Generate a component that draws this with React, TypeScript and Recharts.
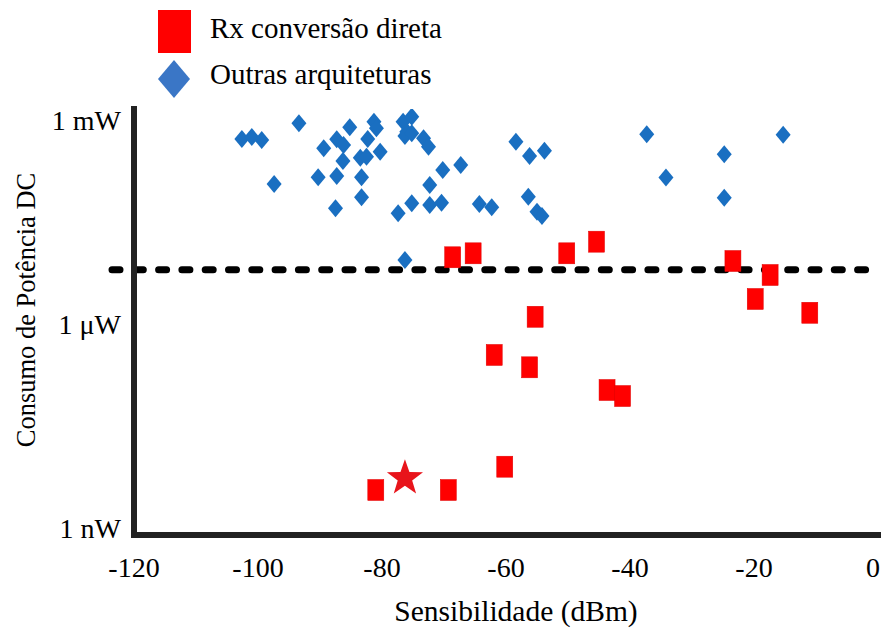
import React from 'react';
import { ScatterChart, Scatter, XAxis, YAxis, ReferenceLine, Legend, Label } from 'recharts';

// Sensitivity (dBm) vs DC power consumption (W)
const otherArchitectures = [
  { x: -102.6, y: 5.35e-4 }, { x: -101.0, y: 5.72e-4 }, { x: -99.4, y: 5.18e-4 },
  { x: -93.4, y: 9.1e-4 }, { x: -97.4, y: 1.17e-4 }, { x: -85.2, y: 7.94e-4 },
  { x: -89.4, y: 3.91e-4 }, { x: -87.3, y: 5.3e-4 }, { x: -86.2, y: 4.37e-4 },
  { x: -86.3, y: 2.54e-4 }, { x: -90.3, y: 1.47e-4 }, { x: -87.3, y: 1.53e-4 },
  { x: -87.5, y: 5.13e-5 }, { x: -83.3, y: 1.47e-4 }, { x: -83.3, y: 7.45e-5 },
  { x: -83.5, y: 2.84e-4 }, { x: -82.5, y: 2.94e-4 }, { x: -82.3, y: 5.35e-4 },
  { x: -81.3, y: 9.6e-4 }, { x: -80.9, y: 7.68e-4 }, { x: -80.3, y: 3.48e-4 },
  { x: -76.6, y: 9.6e-4 }, { x: -75.2, y: 1.14e-3 }, { x: -76.0, y: 6.84e-4 },
  { x: -76.3, y: 5.92e-4 }, { x: -75.2, y: 6.49e-4 }, { x: -73.3, y: 5.48e-4 },
  { x: -72.5, y: 4.12e-4 }, { x: -70.2, y: 1.87e-4 }, { x: -72.3, y: 1.13e-4 },
  { x: -75.2, y: 6.08e-5 }, { x: -77.4, y: 4.34e-5 }, { x: -72.3, y: 5.74e-5 },
  { x: -70.4, y: 6.21e-5 }, { x: -67.3, y: 2.22e-4 }, { x: -64.3, y: 5.94e-5 },
  { x: -62.3, y: 5.31e-5 }, { x: -76.3, y: 8.93e-6 }, { x: -58.4, y: 4.89e-4 },
  { x: -56.2, y: 3.01e-4 }, { x: -53.8, y: 3.6e-4 }, { x: -56.4, y: 7.6e-5 },
  { x: -55.0, y: 4.57e-5 }, { x: -54.2, y: 3.96e-5 }, { x: -37.3, y: 6.27e-4 },
  { x: -34.2, y: 1.45e-4 }, { x: -24.8, y: 3.19e-4 }, { x: -24.8, y: 7.35e-5 },
  { x: -15.3, y: 6.18e-4 },
];

const directConversion = [
  { x: -68.6, y: 9.79e-6 }, { x: -65.3, y: 1.12e-5 }, { x: -50.2, y: 1.12e-5 },
  { x: -45.4, y: 1.66e-5 }, { x: -23.4, y: 8.63e-6 }, { x: -17.4, y: 5.38e-6 },
  { x: -19.8, y: 2.39e-6 }, { x: -11.0, y: 1.5e-6 }, { x: -55.3, y: 1.31e-6 },
  { x: -61.9, y: 3.6e-7 }, { x: -56.2, y: 2.37e-7 }, { x: -43.7, y: 1.1e-7 },
  { x: -41.2, y: 8.97e-8 }, { x: -60.2, y: 8.22e-9 }, { x: -81.0, y: 3.74e-9 },
  { x: -69.3, y: 3.74e-9 },
];

const thisWork = [{ x: -76.3, y: 5.86e-9 }];

const thresholdPower = 6.4e-6;

const xTicks = [-120, -100, -80, -60, -40, -20, 0];
const yTicks = [1e-9, 1e-6, 1e-3];
const yTickLabels = ['1 nW', '1 \u03bcW', '1 mW'];

const legendLabels = ['Rx conversão direta', 'Outras arquiteturas'];
const xTitle = 'Sensibilidade (dBm)';
const yTitle = 'Consumo de Potência DC';

const FONT = "'Liberation Serif', 'Times New Roman', serif";
const RED = '#ff0000';
const BLUE = '#1a6fc1';
const AXIS = '#222222';

const SquareShape = (p: any) => {
  if (p.cx == null || p.cy == null) return null;
  return <rect x={p.cx - 8} y={p.cy - 10.5} width={16} height={21} fill={RED} stroke="#e00000" strokeWidth={0.5} />;
};

const DiamondShape = (p: any) => {
  if (p.cx == null || p.cy == null) return null;
  const { cx, cy } = p;
  return (
    <polygon
      points={`${cx},${cy - 9} ${cx + 7.5},${cy} ${cx},${cy + 9} ${cx - 7.5},${cy}`}
      fill={BLUE}
    />
  );
};

const StarShape = (p: any) => {
  if (p.cx == null || p.cy == null) return null;
  const pts: string[] = [];
  for (let i = 0; i < 10; i++) {
    const r = i % 2 === 0 ? 19 : 7.6;
    const a = -Math.PI / 2 + (i * Math.PI) / 5;
    pts.push(`${p.cx + r * Math.cos(a)},${p.cy + 1.5 + r * Math.sin(a)}`);
  }
  return <polygon points={pts.join(' ')} fill="#e8141b" />;
};

const DashedShape = (p: any) => (
  <line
    x1={p.x1 - 22}
    y1={p.y1}
    x2={p.x2 - 11}
    y2={p.y2}
    stroke="#000"
    strokeWidth={7}
    strokeDasharray="8 15.3"
    strokeLinecap="round"
  />
);

const XTick = (p: any) => {
  const v = p.payload.value;
  const dx = v === 0 ? -5 : 0;
  return (
    <text x={p.x + dx} y={p.y + 42} textAnchor="middle" fontFamily={FONT} fontSize={28} fill="#000">
      {v}
    </text>
  );
};

const YTick = (p: any) => {
  const idx = yTicks.findIndex((t) => Math.abs(Math.log10(t) - Math.log10(p.payload.value)) < 0.01);
  return (
    <text x={p.x - 13} y={p.y + 9.5} textAnchor="end" fontFamily={FONT} fontSize={28} fill="#000">
      {idx >= 0 ? yTickLabels[idx] : ''}
    </text>
  );
};

const LegendContent = () => (
  <svg width={470} height={100} style={{ display: 'block' }}>
    <rect x={158} y={10} width={33} height={43} fill={RED} />
    <polygon points="174,60 190,79 174,98 158,79" fill="#3a76c6" />
    <text x={210} y={38} fontFamily={FONT} fontSize={29} fill="#000">{legendLabels[0]}</text>
    <text x={210} y={84} fontFamily={FONT} fontSize={29} fill="#000">{legendLabels[1]}</text>
  </svg>
);

export default function App() {
  return (
    <div style={{ width: 883, height: 630, background: '#fff' }}>
      <style>{'body{margin:0;background:#fff}'}</style>
      <ScatterChart width={883} height={630} margin={{ top: 109, right: 5, bottom: 0, left: 0 }}>
        <XAxis
          type="number"
          dataKey="x"
          domain={[-120, 0]}
          ticks={xTicks}
          allowDataOverflow
          height={95}
          tickSize={0}
          tickMargin={0}
          tickLine={false}
          tick={<XTick />}
          axisLine={{ stroke: AXIS, strokeWidth: 6, strokeLinecap: 'square' } as any}
        >
          <Label
            content={() => (
              <text x={516} y={621} textAnchor="middle" fontFamily={FONT} fontSize={29.5} fill="#000">
                {xTitle}
              </text>
            )}
          />
        </XAxis>
        <YAxis
          type="number"
          dataKey="y"
          scale="log"
          domain={[8.16e-10, 1.476e-3]}
          ticks={yTicks}
          allowDataOverflow
          width={134}
          tickSize={0}
          tickMargin={0}
          tickLine={false}
          tick={<YTick />}
          axisLine={{ stroke: AXIS, strokeWidth: 6, strokeLinecap: 'square' } as any}
        >
          <Label
            content={() => (
              <text
                x={26}
                y={310}
                dy="0.35em"
                transform="rotate(-90 26 310)"
                textAnchor="middle"
                fontFamily={FONT}
                fontSize={26.5}
                fill="#000"
              >
                {yTitle}
              </text>
            )}
          />
        </YAxis>
        <Legend
          layout="horizontal"
          verticalAlign="middle"
          align="center"
          content={<LegendContent />}
          wrapperStyle={{ top: 0, left: 0, width: 470, height: 100 }}
        />
        <Scatter name="Outras arquiteturas" data={otherArchitectures} shape={<DiamondShape />} isAnimationActive={false} />
        <ReferenceLine y={thresholdPower} ifOverflow="visible" shape={<DashedShape />} />
        <Scatter name="Rx conversão direta" data={directConversion} shape={<SquareShape />} isAnimationActive={false} />
        <Scatter name="Este trabalho" data={thisWork} shape={<StarShape />} isAnimationActive={false} legendType="none" />
      </ScatterChart>
    </div>
  );
}
